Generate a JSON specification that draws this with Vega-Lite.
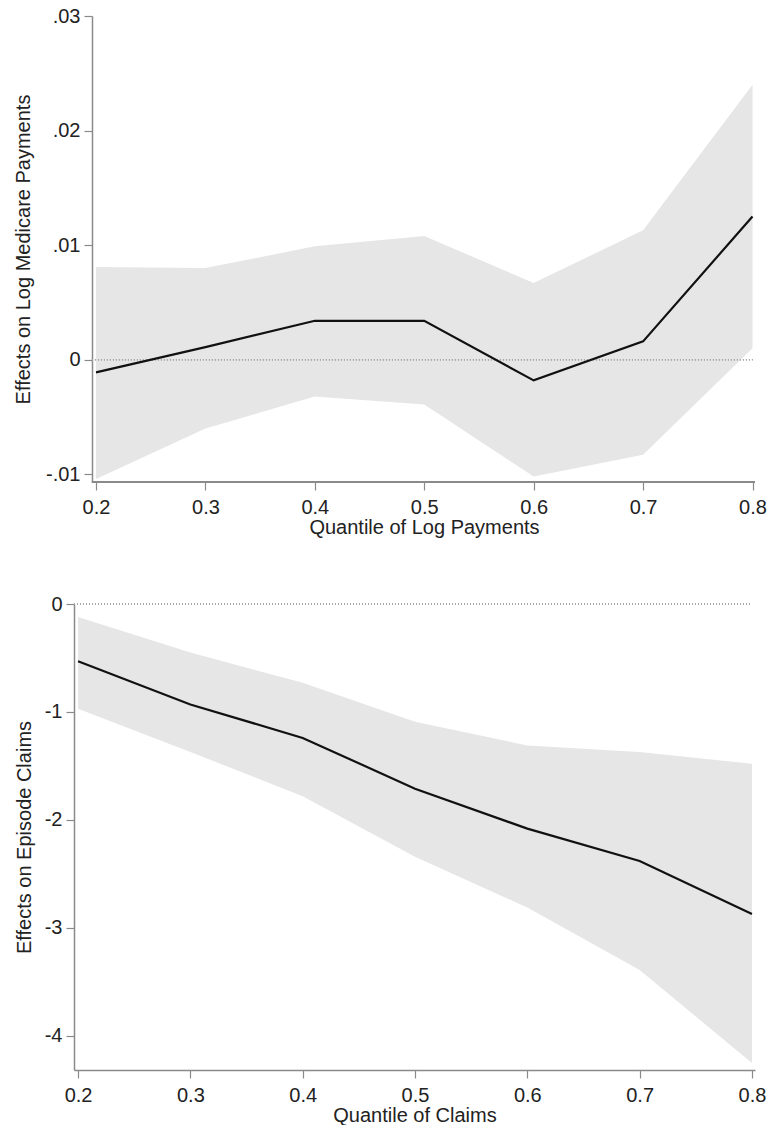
{
  "$schema": "https://vega.github.io/schema/vega-lite/v6.json",
  "background": "white",
  "padding": {"left": 13, "top": 6, "right": 0, "bottom": 0},
  "spacing": 57,
  "config": {
    "view": {"stroke": null},
    "font": "Liberation Sans",
    "axis": {
      "labelFont": "Liberation Sans",
      "titleFont": "Liberation Sans",
      "labelFontSize": 20,
      "titleFontSize": 20,
      "titleFontWeight": "normal",
      "labelColor": "#222",
      "titleColor": "#222",
      "domainColor": "#8a8a8a",
      "domainWidth": 1.5,
      "tickColor": "#8a8a8a",
      "tickWidth": 1.2,
      "tickSize": 8,
      "grid": false
    },
    "axisX": {"labelPadding": 7, "titlePadding": 0},
    "axisY": {"labelPadding": 4}
  },
  "datasets": {
    "pay": [
      {"q": 0.2, "est": -0.0011, "lo": -0.0104, "hi": 0.0081},
      {"q": 0.3, "est": 0.0011, "lo": -0.0060, "hi": 0.0080},
      {"q": 0.4, "est": 0.0034, "lo": -0.0032, "hi": 0.0099},
      {"q": 0.5, "est": 0.0034, "lo": -0.0039, "hi": 0.0108},
      {"q": 0.6, "est": -0.0018, "lo": -0.0102, "hi": 0.0067},
      {"q": 0.7, "est": 0.0016, "lo": -0.0083, "hi": 0.0113},
      {"q": 0.8, "est": 0.0125, "lo": 0.0010, "hi": 0.0240}
    ],
    "claims": [
      {"q": 0.2, "est": -0.53, "lo": -0.97, "hi": -0.12},
      {"q": 0.3, "est": -0.93, "lo": -1.37, "hi": -0.45},
      {"q": 0.4, "est": -1.24, "lo": -1.78, "hi": -0.73},
      {"q": 0.5, "est": -1.71, "lo": -2.34, "hi": -1.09},
      {"q": 0.6, "est": -2.08, "lo": -2.81, "hi": -1.31},
      {"q": 0.7, "est": -2.38, "lo": -3.39, "hi": -1.37},
      {"q": 0.8, "est": -2.87, "lo": -4.25, "hi": -1.48}
    ]
  },
  "vconcat": [
    {
      "width": 681,
      "height": 466,
      "data": {"name": "pay"},
      "encoding": {
        "x": {
          "field": "q", "type": "quantitative",
          "scale": {"domain": [0.17989, 0.80228], "nice": false, "zero": false},
          "axis": {"values": [0.2, 0.3, 0.4, 0.5, 0.6, 0.7, 0.8], "format": ".1f", "title": "Quantile of Log Payments", "domain": false, "titleX": 350}
        }
      },
      "layer": [
        {
          "mark": {"type": "area", "color": "#e6e6e6", "opacity": 1},
          "encoding": {
            "y": {
              "field": "lo", "type": "quantitative",
              "scale": {"domain": [-0.01067, 0.03], "nice": false, "zero": false},
              "axis": {
                "values": [-0.01, 0, 0.01, 0.02, 0.03],
                "labelExpr": "datum.value == 0 ? '0' : (datum.value < 0 ? '-' : '') + replace(format(abs(datum.value), '.2f'), '0.', '.')",
                "title": "Effects on Log Medicare Payments",
                "titlePadding": 12,
                "offset": -18
              }
            },
            "y2": {"field": "hi"}
          }
        },
        {
          "mark": {"type": "rule", "color": "#a8a8a8", "strokeDash": [1, 2], "strokeWidth": 1},
          "encoding": {
            "y": {"datum": 0, "type": "quantitative", "title": "Effects on Log Medicare Payments"},
            "x": {"datum": 0.1963, "type": "quantitative"},
            "x2": {"datum": 0.8}
          }
        },
        {
          "mark": {"type": "rule", "color": "#8a8a8a", "strokeWidth": 1.5},
          "encoding": {
            "y": {"datum": -0.01067, "type": "quantitative", "title": "Effects on Log Medicare Payments"},
            "x": {"datum": 0.1963, "type": "quantitative"},
            "x2": {"datum": 0.8023}
          }
        },
        {
          "mark": {"type": "line", "color": "#111", "strokeWidth": 2.2},
          "encoding": {"y": {"field": "est", "type": "quantitative", "title": "Effects on Log Medicare Payments"}}
        }
      ]
    },
    {
      "width": 681,
      "height": 466,
      "data": {"name": "claims"},
      "encoding": {
        "x": {
          "field": "q", "type": "quantitative",
          "scale": {"domain": [0.1964, 0.8027], "nice": false, "zero": false},
          "axis": {"values": [0.2, 0.3, 0.4, 0.5, 0.6, 0.7, 0.8], "format": ".1f", "title": "Quantile of Claims"}
        }
      },
      "layer": [
        {
          "mark": {"type": "area", "color": "#e6e6e6", "opacity": 1},
          "encoding": {
            "y": {
              "field": "lo", "type": "quantitative",
              "scale": {"domain": [-4.315, 0], "nice": false, "zero": false},
              "axis": {
                "values": [0, -1, -2, -3, -4],
                "labelExpr": "datum.value == 0 ? '0' : '-' + format(abs(datum.value), 'd')",
                "title": "Effects on Episode Claims",
                "titlePadding": 10
              }
            },
            "y2": {"field": "hi"}
          }
        },
        {
          "mark": {"type": "rule", "color": "#a8a8a8", "strokeDash": [1, 2], "strokeWidth": 1},
          "encoding": {
            "y": {"datum": 0, "type": "quantitative", "title": "Effects on Episode Claims"},
            "x": {"datum": 0.1964, "type": "quantitative"},
            "x2": {"datum": 0.8}
          }
        },
        {
          "mark": {"type": "line", "color": "#111", "strokeWidth": 2.2},
          "encoding": {"y": {"field": "est", "type": "quantitative", "title": "Effects on Episode Claims"}}
        }
      ]
    }
  ]
}
